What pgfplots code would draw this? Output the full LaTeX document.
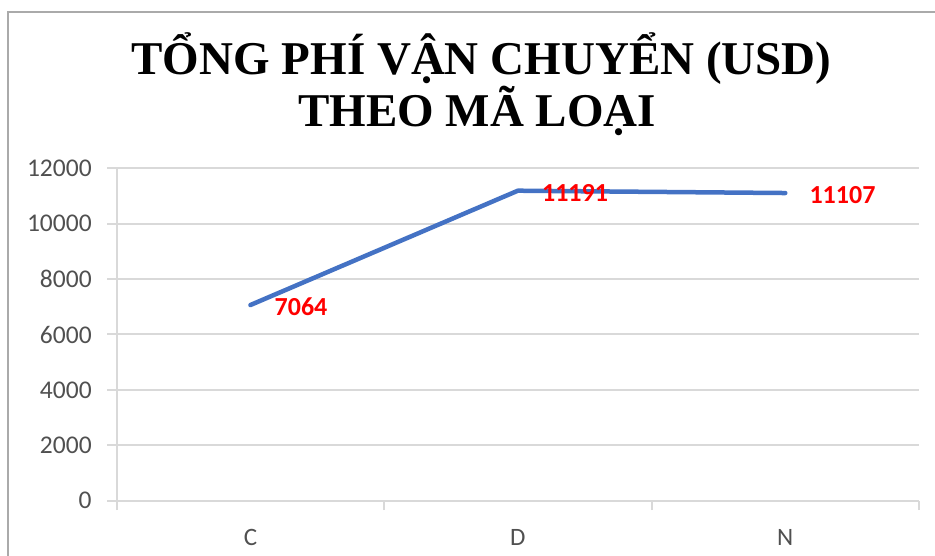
\documentclass[border=0pt]{standalone}
\usepackage{fontspec}
\setmainfont{Carlito}
\newfontfamily\titlefont{Liberation Serif}
\usepackage{pgfplots}
\pgfplotsset{compat=1.18}
\definecolor{gridgray}{RGB}{217,217,217}
\definecolor{framegray}{RGB}{170,170,170}
\definecolor{ticktext}{RGB}{80,80,80}
\definecolor{lineblue}{RGB}{68,114,196}
\begin{document}
\begin{tikzpicture}[x=1pt,y=1pt]
\path[use as bounding box] (0,0) rectangle (935,556);
\draw[framegray, line width=2pt] (8,0) -- (8,544.3) -- (936,544.3);
\node[anchor=base, font={\titlefont\bfseries\fontsize{47}{56}\selectfont}] at (481.5,481) {TỔNG PHÍ VẬN CHUYỂN (USD)};
\node[anchor=base, font={\titlefont\bfseries\fontsize{47}{56}\selectfont}] at (477,429) {THEO MÃ LOẠI};
\begin{axis}[
  at={(116.7pt,55.3pt)}, anchor=south west,
  scale only axis, width=802.3pt, height=332.4pt,
  xmin=-0.5, xmax=2.5, ymin=0, ymax=12000,
  axis x line*=bottom, axis y line*=left,
  axis line style={gridgray, line width=2pt, -},
  xtick={-0.5,0.5,1.5,2.5}, xticklabels={},
  extra x ticks={0,1,2}, extra x tick labels={C,D,N},
  extra x tick style={major tick length=0pt},
  ytick={0,2000,4000,6000,8000,10000,12000},
  ymajorgrids, grid style={gridgray, line width=2pt},
  tick align=outside, major tick length=9.5pt,
  tick style={gridgray, line width=2pt},
  /pgf/number format/assume math mode=true,
  /pgf/number format/1000 sep={},
  scaled y ticks=false,
  yticklabel style={font=\fontsize{25.5}{30}\selectfont, color=ticktext, xshift=-12pt},
  xticklabel style={font=\fontsize{25}{30}\selectfont, color=ticktext, yshift=-25pt},
  clip=false,
]
\addplot[lineblue, line width=4.5pt, line cap=round, line join=round,
  nodes near coords,
  nodes near coords style={anchor=west, font=\fontsize{26}{30}\selectfont\bfseries, text=red, inner sep=0pt, xshift=22pt, yshift=-2pt}]
  coordinates {(0,7064) (1,11191) (2,11107)};
\end{axis}
\end{tikzpicture}
\end{document}
